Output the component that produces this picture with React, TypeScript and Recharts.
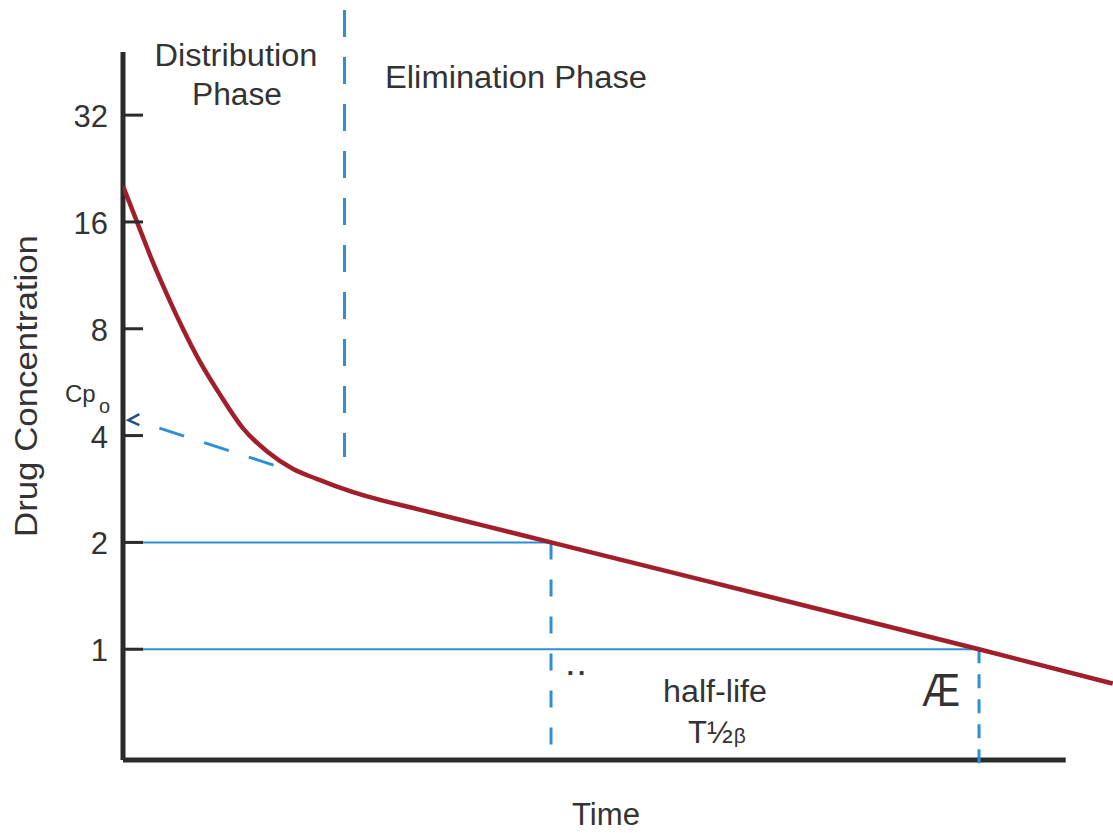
import React from 'react';
import {
  ComposedChart,
  Line,
  XAxis,
  YAxis,
  ReferenceLine,
  ReferenceDot,
  Customized,
} from 'recharts';

// ---- data (time in hours, concentration on a log2 axis) ----
const timeH = [0, 0.16, 0.28, 0.41, 0.56, 0.72, 0.91, 1.12, 1.35, 1.59, 1.81, 2.15, 2.78, 3.4, 4.0, 8.0, 9.25];
const concentration = [20.2, 15.2, 12.3, 10.0, 8.0, 6.45, 5.2, 4.2, 3.6, 3.22, 3.02, 2.77, 2.47, 2.22, 2.0, 1.0, 0.8];
const yTicks = [1, 2, 4, 8, 16, 32];

const halfLifeStart = { t: 4, c: 2 };
const halfLifeEnd = { t: 8, c: 1 };
const phaseBoundaryT = 2.07;
const phaseBoundaryBottomC = 3.48;
const cp0Start = { t: 0.34, c: 4.2 };
const cp0End = { t: 1.41, c: 3.3 };
const cp0Arrow = { t: 0.05, c: 4.42 };

const Y_MIN = 0.4873;
const Y_MAX = 63.3;
const X_MAX = 9.252;
const Y_AXIS_TOP = 48.2;
const X_AXIS_END = 8.81;

const data = timeH.map((t, i) => ({ t, c: concentration[i] }));

const FONT = '"Liberation Sans", Arial, Helvetica, sans-serif';
const TEXT = '#333333';
const AXIS = '#2b2b2b';
const BLUE = '#2f8fd6';
const RED = '#a11f2b';

const YTick = (props: any) => {
  const { x, y, payload } = props;
  return (
    <g>
      <line x1={x} x2={x + 20} y1={y} y2={y} stroke={AXIS} strokeWidth={3} />
      <text x={x - 15} y={y} dy={12} textAnchor="end" fontSize={31} fill={TEXT} fontFamily={FONT}>
        {payload.value}
      </text>
    </g>
  );
};

const Annotations = () => (
  <g fontFamily={FONT} fill={TEXT}>
    <text x={236} y={66} fontSize={31} textAnchor="middle" textLength={163} lengthAdjust="spacingAndGlyphs">Distribution</text>
    <text x={237} y={105} fontSize={31} textAnchor="middle" textLength={90} lengthAdjust="spacingAndGlyphs">Phase</text>
    <text x={516} y={88} fontSize={31} textAnchor="middle" textLength={262} lengthAdjust="spacingAndGlyphs">Elimination Phase</text>
    <text x={65} y={402} fontSize={24}>Cp</text>
    <text x={99} y={413} fontSize={20}>o</text>
    <text transform="translate(37,386) rotate(-90)" fontSize={31} textAnchor="middle" textLength={302} lengthAdjust="spacingAndGlyphs">Drug Concentration</text>
    <text x={606} y={825} fontSize={31} textAnchor="middle" textLength={68} lengthAdjust="spacingAndGlyphs">Time</text>
    <text x={578} y={675} fontSize={26} fontWeight="bold" textAnchor="middle" letterSpacing={4}>..</text>
    <text x={715} y={702} fontSize={31} textAnchor="middle" textLength={104} lengthAdjust="spacingAndGlyphs">half-life</text>
    <text x={688} y={743} fontSize={31}>
      <tspan>T</tspan>
      <tspan>½</tspan>
      <tspan fontSize={21} dx={1}>β</tspan>
    </text>
    <text x={941} y={706} fontSize={46} textAnchor="middle" textLength={38} lengthAdjust="spacingAndGlyphs">Æ</text>
  </g>
);

const Arrow = (p: any) => (
  <path
    d={`M${p.cx + 11},${p.cy - 6} L${p.cx},${p.cy} L${p.cx + 11},${p.cy + 5}`}
    fill="none"
    stroke="#24507e"
    strokeWidth={2.5}
  />
);

export default function App() {
  return (
    <div style={{ position: 'absolute', left: 0, top: 0, width: 1113, height: 833, background: '#ffffff' }}>
      <ComposedChart
        width={1113}
        height={833}
        data={data}
        margin={{ top: 10, right: 0, bottom: 73, left: 0 }}
      >
        <XAxis dataKey="t" type="number" domain={[0, X_MAX]} allowDataOverflow hide />
        <YAxis
          type="number"
          scale="log"
          domain={[Y_MIN, Y_MAX]}
          allowDataOverflow
          ticks={yTicks}
          interval={0}
          width={123}
          axisLine={false}
          tickLine={false}
          tickSize={0}
          tickMargin={0}
          tick={<YTick />}
        />
        {/* axes */}
        <ReferenceLine
          segment={[{ x: 0, y: Y_MIN }, { x: 0, y: Y_AXIS_TOP }]}
          stroke={AXIS}
          strokeWidth={5}
          ifOverflow="visible"
        />
        <ReferenceLine
          segment={[{ x: 0, y: Y_MIN }, { x: X_AXIS_END, y: Y_MIN }]}
          stroke={AXIS}
          strokeWidth={5}
          ifOverflow="visible"
        />
        {/* phase boundary */}
        <ReferenceLine
          segment={[{ x: phaseBoundaryT, y: Y_MAX }, { x: phaseBoundaryT, y: phaseBoundaryBottomC }]}
          stroke={BLUE}
          strokeWidth={3}
          strokeDasharray="27 20"
          ifOverflow="visible"
        />
        {/* half-life guides */}
        <ReferenceLine
          segment={[{ x: 0, y: halfLifeStart.c }, { x: halfLifeStart.t, y: halfLifeStart.c }]}
          stroke={BLUE}
          strokeWidth={2}
          ifOverflow="visible"
        />
        <ReferenceLine
          segment={[{ x: 0, y: halfLifeEnd.c }, { x: halfLifeEnd.t, y: halfLifeEnd.c }]}
          stroke={BLUE}
          strokeWidth={2}
          ifOverflow="visible"
        />
        <ReferenceLine
          segment={[{ x: halfLifeStart.t, y: halfLifeStart.c }, { x: halfLifeStart.t, y: Y_MIN }]}
          stroke={BLUE}
          strokeWidth={3}
          strokeDasharray="17 20"
          ifOverflow="visible"
        />
        <ReferenceLine
          segment={[{ x: halfLifeEnd.t, y: halfLifeEnd.c }, { x: halfLifeEnd.t, y: 0.466 }]}
          stroke={BLUE}
          strokeWidth={3}
          strokeDasharray="14 11"
          ifOverflow="visible"
        />
        {/* Cp0 back-extrapolation */}
        <ReferenceLine
          segment={[{ x: cp0Start.t, y: cp0Start.c }, { x: cp0End.t, y: cp0End.c }]}
          stroke={BLUE}
          strokeWidth={3}
          strokeDasharray="26 21"
          ifOverflow="visible"
        />
        <ReferenceDot x={cp0Arrow.t} y={cp0Arrow.c} r={4} shape={Arrow} ifOverflow="visible" />
        <Line
          dataKey="c"
          type="monotone"
          stroke={RED}
          strokeWidth={4.5}
          dot={false}
          activeDot={false}
          isAnimationActive={false}
        />
        <Customized component={Annotations} />
      </ComposedChart>
    </div>
  );
}
